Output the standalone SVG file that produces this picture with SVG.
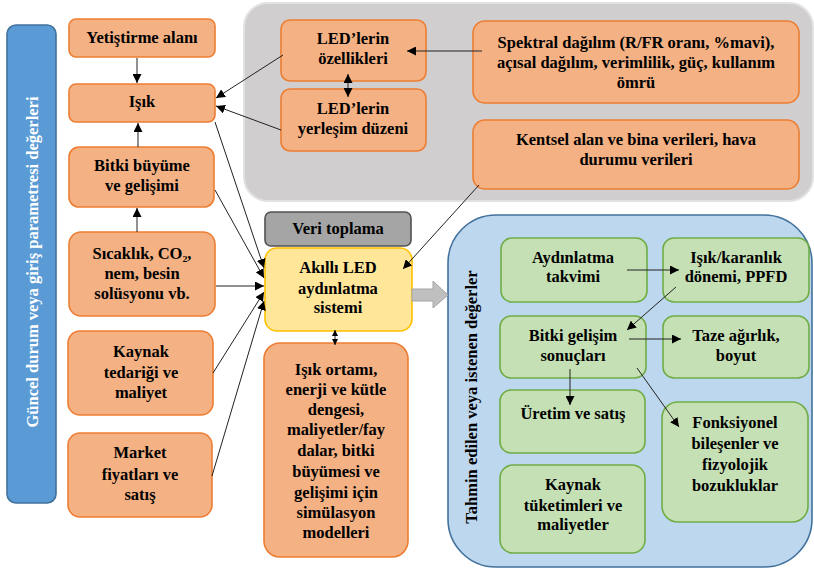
<svg xmlns="http://www.w3.org/2000/svg" width="814" height="570" viewBox="0 0 814 570">
<defs>
<marker id="ah" viewBox="0 0 10 10" refX="10" refY="5" markerWidth="9" markerHeight="9" markerUnits="userSpaceOnUse" orient="auto-start-reverse">
<path d="M0,0 L10,5 L0,10 z" fill="#000"/>
</marker>
<marker id="ahs" viewBox="0 0 10 10" refX="10" refY="5" markerWidth="6" markerHeight="7" markerUnits="userSpaceOnUse" orient="auto-start-reverse">
<path d="M0,0 L10,5 L0,10 z" fill="#000"/>
</marker>
<style>
.t{font-family:"Liberation Serif","Times New Roman",serif;font-weight:bold;font-size:16.5px;fill:#000;text-anchor:middle}
.vt{font-family:"Liberation Serif","Times New Roman",serif;font-weight:bold;font-size:16.5px;text-anchor:middle}
.or{fill:#f4b183;stroke:#ed7d31;stroke-width:1.6}
.gr{fill:#c5e0b4;stroke:#70ad47;stroke-width:1.6}
.c{stroke:#222;stroke-width:1;fill:none;marker-end:url(#ah)}
.cb{stroke:#222;stroke-width:1;fill:none;marker-end:url(#ah);marker-start:url(#ah)}
.cs{stroke:#222;stroke-width:1;fill:none;marker-end:url(#ahs);marker-start:url(#ahs)}
</style>
</defs>
<rect width="814" height="570" fill="#fff"/>

<g id="bg-gray">
<rect x="244" y="3" width="569" height="198" rx="24" fill="#d0cece" stroke="#e2e2e2" stroke-width="2"/>
</g>
<g id="bg-blue">
<rect x="448" y="215" width="364" height="352" rx="48" fill="#bdd7ee" stroke="#41719c" stroke-width="1.6"/>
<text class="vt" fill="#000" transform="translate(477,397) rotate(-90)">Tahmin edilen veya istenen değerler</text>
</g>
<g id="left-bar">
<rect x="7" y="25" width="49" height="478" rx="9" fill="#5b9bd5" stroke="#41719c" stroke-width="1.6"/>
<text class="vt" fill="#fff" transform="translate(37.5,262) rotate(-90)">Güncel durum veya giriş parametresi değerleri</text>
</g>

<g id="n-yetistirme"><rect class="or" x="69" y="19" width="146" height="38" rx="7"/>
<text class="t" x="142" y="43">Yetiştirme alanı</text></g>
<g id="n-isik"><rect class="or" x="69" y="84" width="146" height="38" rx="7"/>
<text class="t" x="142" y="107">Işık</text></g>
<g id="n-bitki"><rect class="or" x="69" y="147" width="145" height="60" rx="10"/>
<text class="t" x="142" y="171">Bitki büyüme</text><text class="t" x="142" y="191">ve gelişimi</text></g>
<g id="n-sicaklik"><rect class="or" x="69" y="232" width="146" height="84" rx="12"/>
<text class="t" x="142" y="259">Sıcaklık, CO₂,</text><text class="t" x="142" y="279">nem, besin</text><text class="t" x="142" y="299">solüsyonu vb.</text></g>
<g id="n-kaynak"><rect class="or" x="68" y="331" width="145" height="84" rx="12"/>
<text class="t" x="141" y="357">Kaynak</text><text class="t" x="141" y="378">tedariği ve</text><text class="t" x="141" y="398">maliyet</text></g>
<g id="n-market"><rect class="or" x="68" y="433" width="144" height="84" rx="12"/>
<text class="t" x="140" y="458">Market</text><text class="t" x="140" y="480">fiyatları ve</text><text class="t" x="140" y="500">satış</text></g>

<g id="n-led-ozellik"><rect class="or" x="281" y="20" width="145" height="61" rx="9"/>
<text class="t" x="353" y="44">LED’lerin</text><text class="t" x="353" y="64">özellikleri</text></g>
<g id="n-led-yerlesim"><rect class="or" x="281" y="89" width="145" height="62" rx="9"/>
<text class="t" x="353" y="114">LED’lerin</text><text class="t" x="353" y="134">yerleşim düzeni</text></g>
<g id="n-spektral"><rect class="or" x="473" y="21" width="326" height="82" rx="12"/>
<text class="t" x="636" y="48">Spektral dağılım (R/FR oranı, %mavi),</text><text class="t" x="636" y="68">açısal dağılım, verimlilik, güç, kullanım</text><text class="t" x="636" y="88">ömrü</text></g>
<g id="n-kentsel"><rect class="or" x="473" y="120" width="326" height="69" rx="12"/>
<text class="t" x="636" y="145">Kentsel alan ve bina verileri, hava</text><text class="t" x="636" y="165">durumu verileri</text></g>

<g id="n-veri"><rect x="265" y="212" width="146" height="34" rx="6" fill="#a5a5a5" stroke="#525252" stroke-width="1.6"/>
<text class="t" x="338" y="234">Veri toplama</text></g>
<g id="n-akilli"><rect x="265" y="248" width="147" height="83" rx="12" fill="#ffe699" stroke="#ffc000" stroke-width="1.6"/>
<text class="t" x="338" y="273">Akıllı LED</text><text class="t" x="338" y="294">aydınlatma</text><text class="t" x="338" y="313">sistemi</text></g>
<g id="n-simulasyon"><rect class="or" x="264" y="343" width="144" height="214" rx="16"/>
<text class="t" x="336" y="375">Işık ortamı,</text><text class="t" x="336" y="395">enerji ve kütle</text><text class="t" x="336" y="415">dengesi,</text><text class="t" x="336" y="435">maliyetler/fay</text><text class="t" x="336" y="456">dalar, bitki</text><text class="t" x="336" y="477">büyümesi ve</text><text class="t" x="336" y="498">gelişimi için</text><text class="t" x="336" y="518">simülasyon</text><text class="t" x="336" y="538">modelleri</text></g>

<g id="n-aydinlatma"><rect class="gr" x="501" y="238" width="146" height="64" rx="11"/>
<text class="t" x="573" y="263">Aydınlatma</text><text class="t" x="573" y="282">takvimi</text></g>
<g id="n-isik-karanlik"><rect class="gr" x="663" y="238" width="146" height="64" rx="11"/>
<text class="t" x="736" y="263">Işık/karanlık</text><text class="t" x="736" y="282">dönemi, PPFD</text></g>
<g id="n-bitki-gelisim"><rect class="gr" x="500" y="316" width="146" height="62" rx="11"/>
<text class="t" x="573" y="341">Bitki gelişim</text><text class="t" x="573" y="361">sonuçları</text></g>
<g id="n-taze"><rect class="gr" x="663" y="316" width="146" height="62" rx="11"/>
<text class="t" x="736" y="341">Taze ağırlık,</text><text class="t" x="736" y="361">boyut</text></g>
<g id="n-uretim"><rect class="gr" x="500" y="390" width="145" height="63" rx="11"/>
<text class="t" x="573" y="419">Üretim ve satış</text></g>
<g id="n-fonksiyonel"><rect class="gr" x="662" y="402" width="146" height="120" rx="16"/>
<text class="t" x="735" y="428">Fonksiyonel</text><text class="t" x="735" y="449">bileşenler ve</text><text class="t" x="735" y="470">fizyolojik</text><text class="t" x="735" y="491">bozukluklar</text></g>
<g id="n-kaynak-tuketim"><rect class="gr" x="500" y="465" width="145" height="88" rx="13"/>
<text class="t" x="573" y="490">Kaynak</text><text class="t" x="573" y="511">tüketimleri ve</text><text class="t" x="573" y="530">maliyetler</text></g>

<g id="connectors">
<path class="c" d="M137,58 L137,83"/>
<path class="c" d="M138,147 L138,123"/>
<path class="c" d="M137,232 L137,208"/>
<path class="c" d="M283,55 L216,98"/>
<path class="c" d="M281,130 L216,106"/>
<path class="c" d="M482,51 L407,51"/>
<path class="cb" d="M348,74 L348,97"/>
<path class="c" d="M215,122 L264,268"/>
<path class="c" d="M215,190 L264,278"/>
<path class="c" d="M216,286 L264,286"/>
<path class="c" d="M213,373 L264,292"/>
<path class="c" d="M212,476 L264,301"/>
<path class="c" d="M479,185 L403,269"/>
<path class="cs" d="M335,330 L335,345"/>
<path class="c" d="M627,270 L679,270"/>
<path class="c" d="M676,287 L627,330"/>
<path class="c" d="M629,339 L681,339"/>
<path class="c" d="M570,369 L570,405"/>
<path class="c" d="M637,368 L679,427"/>
<path d="M412,289 L433,289 L433,281 L448,295 L433,308 L433,301 L412,301 z" fill="#bfbfbf" stroke="#a5a5a5" stroke-width="1"/>
</g>
</svg>
